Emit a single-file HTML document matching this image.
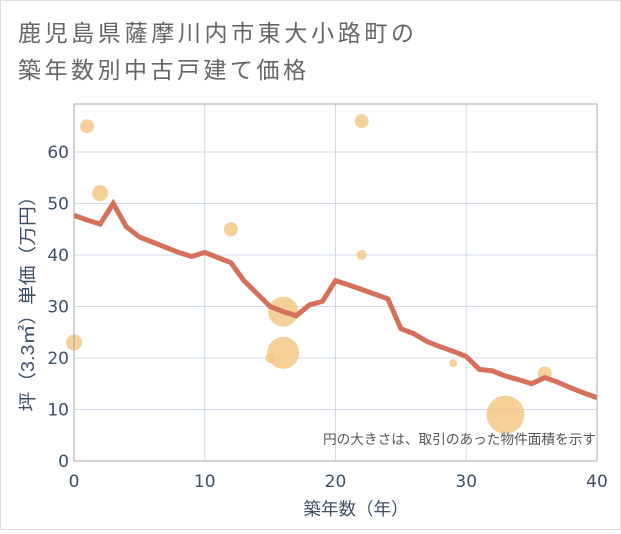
<!DOCTYPE html>
<html><head><meta charset="utf-8"><style>
body{margin:0;background:#fff;}
#wrap{position:relative;width:619px;height:528px;border:1px solid #ddd;background:#fff;font-family:"Liberation Sans","Noto Sans CJK JP",sans-serif;}
</style></head><body>
<div id="wrap">
<svg id="chart" width="619" height="528" xmlns="http://www.w3.org/2000/svg">
<text x="17" y="40" font-size="23" fill="#666" textLength="396" lengthAdjust="spacing" font-family="Liberation Sans, Noto Sans CJK JP, sans-serif">鹿児島県薩摩川内市東大小路町の</text>
<text x="17" y="77" font-size="23" fill="#666" textLength="288" lengthAdjust="spacing" font-family="Liberation Sans, Noto Sans CJK JP, sans-serif">築年数別中古戸建て価格</text>
<g id="grid"></g><g id="bubbles"></g><g id="line"></g><g id="axes"></g>
<text x="595" y="443" font-size="13.5" fill="#555" text-anchor="end" textLength="273" lengthAdjust="spacingAndGlyphs" font-family="Liberation Sans, Noto Sans CJK JP, sans-serif">円の大きさは、取引のあった物件面積を示す</text>
<text x="355" y="514" font-size="17.5" fill="#3d5068" text-anchor="middle" font-family="Liberation Sans, Noto Sans CJK JP, sans-serif">築年数（年）</text>
<text transform="translate(33,298) rotate(-90)" font-size="18" fill="#3d5068" text-anchor="middle" textLength="225" lengthAdjust="spacingAndGlyphs" font-family="Liberation Sans, Noto Sans CJK JP, sans-serif">坪（3.3㎡）単価（万円）</text>
</svg></div>
<script>
const xTicks=[0,10,20,30,40];
const yTicks=[0,10,20,30,40,50,60];
const lineYears=[0,1,2,3,4,5,6,7,8,9,10,11,12,13,14,15,16,17,18,19,20,21,22,23,24,25,26,27,28,29,30,31,32,33,34,35,36,37,38,39,40];
const linePrices=[47.7,46.8,46,50,45.5,43.5,42.5,41.5,40.5,39.7,40.5,39.5,38.5,35,32.5,30,29,28.2,30.3,31,35,34.2,33.3,32.4,31.5,25.7,24.7,23.2,22.2,21.3,20.3,17.8,17.5,16.5,15.8,15,16.2,15.3,14.2,13.2,12.3];
const bubbleYears=[0,1,2,12,15,16,16,22,22,29,33,36];
const bubblePrices=[23,65,52,45,20,29,21,66,40,19,9,17];
const bubbleSizes=[8,7,8,7,5,15,16,7,5,4,19,7];
const NS="http://www.w3.org/2000/svg";
const X0=73,X1=596,YB=460,YT=103;
const xs=v=>X0+(v/40)*(X1-X0);
const ys=v=>YB-v*5.15;
function mk(tag,attrs,parent){const e=document.createElementNS(NS,tag);for(const k in attrs)e.setAttribute(k,attrs[k]);parent.appendChild(e);return e;}
const grid=document.getElementById('grid'),axes=document.getElementById('axes');
const TF='DejaVu Sans, Liberation Sans, sans-serif';
xTicks.forEach(t=>{
 if(t>0&&t<40){const l=mk('line',{x1:xs(t),x2:xs(t),y1:YT,y2:YB,stroke:'#cfdbe8','stroke-width':1},grid);
 
 }
 const tx=mk('text',{x:xs(t),y:YB+26,'font-size':17,fill:'#3d5068','text-anchor':'middle','font-family':TF},axes);tx.textContent=t;
 
 
});
yTicks.forEach(t=>{
 if(t>0){const l=mk('line',{x1:X0,x2:X1,y1:ys(t),y2:ys(t),stroke:'#cfdbe8','stroke-width':1},grid);
 
 }
 const tx=mk('text',{x:X0-5,y:ys(t)+6,'font-size':17,fill:'#3d5068','text-anchor':'end','font-family':TF},axes);tx.textContent=t;
 
 
});
const fr=mk('rect',{x:X0,y:YT,width:X1-X0,height:YB-YT,fill:'none',stroke:'#aaa','stroke-width':1},axes);


const bg=document.getElementById('bubbles');
bubbleYears.forEach((y,i)=>{
 const c=mk('circle',{cx:xs(y),cy:ys(bubblePrices[i]),r:bubbleSizes[i],fill:'#f3c57f','fill-opacity':0.8},bg);
 
 
});
const pts=lineYears.map((y,i)=>xs(y)+','+ys(linePrices[i])).join(' ');
const pl=mk('polyline',{points:pts,fill:'none',stroke:'#d5705a','stroke-width':5,'stroke-linejoin':'miter'},document.getElementById('line'));


</script>
</body></html>
